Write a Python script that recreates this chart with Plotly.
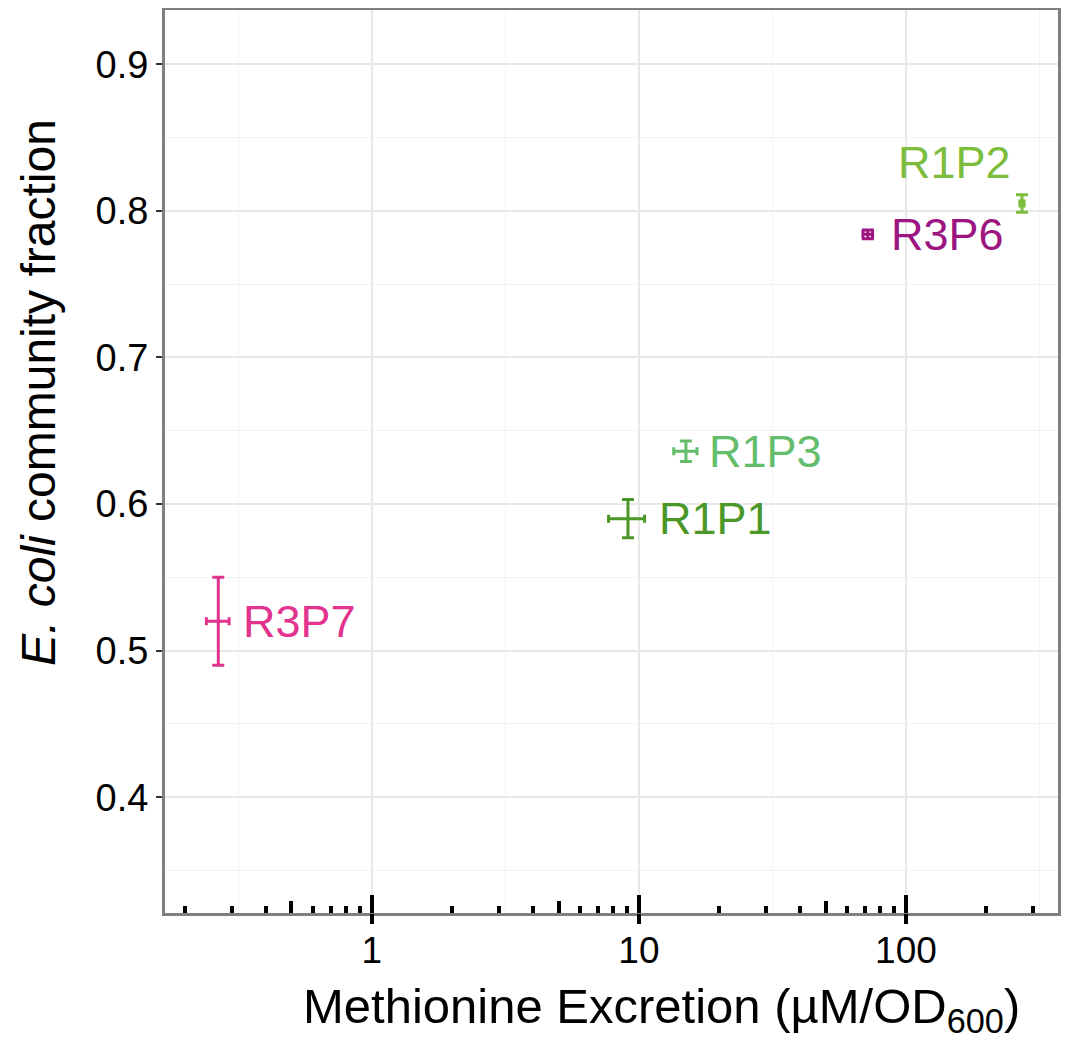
import numpy as np
import plotly.graph_objects as go

# ---- data ----
strains = ["R3P7", "R1P1", "R1P3", "R3P6", "R1P2"]
excretion = [0.266, 9.1, 15.0, 72.0, 272.0]          # µM/OD600
excretion_err = [0.026, 1.4, 1.5, 3.0, 5.0]
fraction = [0.520, 0.590, 0.636, 0.784, 0.805]
fraction_err = [0.030, 0.013, 0.007, 0.003, 0.006]
colors = ["#e2338f", "#4a9626", "#64bd6b", "#9c1580", "#7cbd3c"]

y_tickvals = [0.4, 0.5, 0.6, 0.7, 0.8, 0.9]
y_minorvals = [0.35, 0.45, 0.55, 0.65, 0.75, 0.85]
x_major = [1, 10, 100]
x_major_text = ["1", "10", "100"]
x_mid = [0.5, 5, 50]
x_short = [0.2, 0.3, 0.4, 0.6, 0.7, 0.8, 0.9,
           2, 3, 4, 6, 7, 8, 9,
           20, 30, 40, 60, 70, 80, 90,
           200, 300]
x_halfdecade = [10 ** -0.5, 10 ** 0.5, 10 ** 1.5, 10 ** 2.5]

# label style offsets (px)
label_style = {
    "R3P7": dict(xanchor="left", xshift=23, yshift=0),
    "R1P1": dict(xanchor="left", xshift=29, yshift=0),
    "R1P3": dict(xanchor="left", xshift=21, yshift=0),
    "R3P6": dict(xanchor="left", xshift=21, yshift=0),
    "R1P2": dict(xanchor="right", xshift=-9, yshift=41),
}

FONT = "Liberation Sans, Arial, sans-serif"
xrange = [np.log10(0.168), np.log10(371)]
yrange = [0.321, 0.937]

# page body has an 8px margin: compensate so the plot area lands where intended
W, H = 1081 - 8, 1044 - 8
L, R, T, B = 165 - 8, 23, 10 - 8, 131

fig = go.Figure()
for s, x, xe, y, ye, c in zip(strains, excretion, excretion_err, fraction, fraction_err, colors):
    fig.add_trace(go.Scatter(
        x=[x], y=[y], mode="markers", name=s, showlegend=False,
        marker=dict(size=1, color=c),
        error_x=dict(type="data", array=[xe], color=c, thickness=3, width=4),
        error_y=dict(type="data", array=[ye], color=c, thickness=3, width=6),
    ))
    st = label_style[s]
    fig.add_annotation(x=np.log10(x), y=y, text=s, showarrow=False,
                       xanchor=st["xanchor"], yanchor="middle",
                       xshift=st["xshift"], yshift=st["yshift"],
                       font=dict(family=FONT, size=45, color=c))

# invisible carriers so the overlay tick/grid axes are rendered
for ax in ["x2", "x3", "x4"]:
    fig.add_trace(go.Scatter(x=excretion, y=fraction, xaxis=ax, yaxis="y",
                             mode="markers", marker=dict(size=1, opacity=0),
                             hoverinfo="skip", showlegend=False))

common_x = dict(type="log", range=xrange, overlaying="x", anchor="y",
                side="bottom", showticklabels=False, showline=False,
                zeroline=False, automargin=False)

fig.update_layout(
    width=W, height=H,
    margin=dict(l=L, r=R, t=T, b=B, autoexpand=False),
    paper_bgcolor="white", plot_bgcolor="white",
    font=dict(family=FONT, color="black"),
    xaxis=dict(
        type="log", range=xrange, automargin=False,
        tickmode="array", tickvals=x_major, ticktext=x_major_text,
        ticks="outside", ticklen=3, tickwidth=3.5, tickcolor="black",
        tickfont=dict(size=37, color="black"),
        showgrid=True, gridcolor="#e8e8e8", gridwidth=1.5,
        showline=True, linecolor="#7f7f7f", linewidth=3, mirror=True,
        zeroline=False,
        minor=dict(tickmode="array", tickvals=x_short, ticks="inside",
                   ticklen=7, tickwidth=3.5, tickcolor="black", showgrid=False),
    ),
    # long outside ticks at decades
    xaxis2=dict(common_x, tickmode="array", tickvals=x_major, ticks="outside",
                ticklen=10, tickwidth=3.5, tickcolor="black", showgrid=False),
    # long inside ticks at decades + medium inside ticks at 5s
    xaxis3=dict(common_x, tickmode="array", tickvals=x_major, ticks="inside",
                ticklen=18, tickwidth=3.5, tickcolor="black", showgrid=False,
                minor=dict(tickmode="array", tickvals=x_mid, ticks="inside",
                           ticklen=12, tickwidth=3.5, tickcolor="black",
                           showgrid=False)),
    # half-decade minor grid lines
    xaxis4=dict(common_x, tickmode="array", tickvals=x_halfdecade, ticks="",
                showgrid=True, gridcolor="#f2f2f2", gridwidth=1.2),
    yaxis=dict(
        range=yrange, automargin=False, tickmode="array", tickvals=y_tickvals,
        ticktext=[f"{v:.1f}" for v in y_tickvals],
        ticks="outside", ticklen=6, tickwidth=2, tickcolor="#333333",
        tickfont=dict(size=38, color="black"),
        showgrid=True, gridcolor="#e8e8e8", gridwidth=1.5,
        showline=True, linecolor="#7f7f7f", linewidth=3, mirror=True,
        zeroline=False,
        minor=dict(tickmode="array", tickvals=y_minorvals, ticks="",
                   showgrid=True, gridcolor="#f2f2f2", gridwidth=1.2),
    ),
)

# axis titles placed as in the reference (both slightly off panel centre)
fig.add_annotation(xref="paper", yref="paper", x=(38 - 165) / 893, y=(913 - 393) / 903,
                   text="<i>E. coli</i> community fraction", textangle=-90,
                   showarrow=False, xanchor="center", yanchor="middle",
                   font=dict(family=FONT, size=48, color="black"))
fig.add_annotation(xref="paper", yref="paper", x=(661 - 165) / 893, y=(913 - 1009) / 903,
                   text="Methionine Excretion (µM/OD<sub>600</sub>)",
                   showarrow=False, xanchor="center", yanchor="middle",
                   font=dict(family=FONT, size=49, color="black"))

fig.write_html("out.html")
